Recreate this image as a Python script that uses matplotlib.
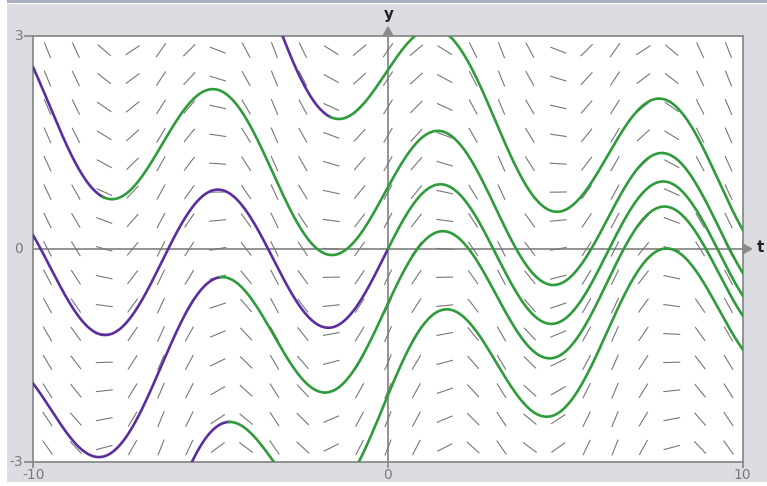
import numpy as np
import matplotlib
matplotlib.use("Agg")
import matplotlib.pyplot as plt
from matplotlib.collections import LineCollection
from matplotlib.patches import Rectangle

# ODE: dy/dt = cos(t) - k*y
k = 0.1
t_range = [-10, 10]
y_range = [-3, 3]
# initial points of the solution curves (purple = backward, green = forward)
t0_list = [-8.03, -1.63, 0.0, -4.73, -4.49]
y0_list = [0.73, 1.86, 0.0, -0.40, -2.44]
# slope-field grid
n_cols = 25
n_rows = 15
x_ticks = [-10, 0, 10]
y_ticks = [-3, 0, 3]

PURPLE = "#5b2d9f"
GREEN = "#2f9b3b"
GRAY = "#8a8a8a"
BG = "#dcdde3"

def f(t, y):
    return np.cos(t) - k * y

def yp(t):
    return (k * np.cos(t) + np.sin(t)) / (1 + k * k)

def sol(t, t0, y0):
    return yp(t) + (y0 - yp(t0)) * np.exp(-k * (t - t0))

W, H = 767, 486
fig = plt.figure(figsize=(W / 100, H / 100), dpi=100)
fig.patch.set_facecolor("white")
fig.patches.append(Rectangle((7 / W, 4 / H), 1 - 7 / W, 1 - 8 / H, transform=fig.transFigure,
                             facecolor=BG, edgecolor="none", zorder=-10))
fig.patches.append(Rectangle((7 / W, 1 - 3 / H), 1 - 7 / W, 3 / H, transform=fig.transFigure,
                             facecolor="#aab0c4", edgecolor="none", zorder=-9))

left, right, top, bottom = 33.3, 742.7, 36.0, 461.7
ax = fig.add_axes([left / W, 1 - bottom / H, (right - left) / W, (bottom - top) / H])
ax.set_facecolor("white")
ax.set_xlim(t_range)
ax.set_ylim(y_range)
for s in ax.spines.values():
    s.set_color(GRAY)
    s.set_linewidth(1.3)
ax.set_xticks([])
ax.set_yticks([])

# slope field: fixed screen-length dashes
px_x = (right - left) / (t_range[1] - t_range[0])
px_y = (bottom - top) / (y_range[1] - y_range[0])
half = 8.5
tc = t_range[0] + (np.arange(n_cols) + 0.5) * (t_range[1] - t_range[0]) / n_cols
yc = y_range[0] + (np.arange(n_rows) + 0.5) * (y_range[1] - y_range[0]) / n_rows
segs = []
for t in tc:
    for y in yc:
        s = f(t, y)
        dx, dy = px_x, px_y * s
        n = np.hypot(dx, dy)
        ux, uy = dx / n * half / px_x, dy / n * half / px_y
        segs.append([(t - ux, y - uy), (t + ux, y + uy)])
ax.add_collection(LineCollection(segs, colors="#777777", linewidths=0.8, zorder=2))

# axes through origin
ax.axhline(0, color=GRAY, lw=1.3, zorder=1)
ax.axvline(0, color=GRAY, lw=1.3, zorder=1)

# solution curves
for t0, y0 in zip(t0_list, y0_list):
    tb = np.linspace(t_range[0], t0, 600)
    ax.plot(tb, sol(tb, t0, y0), color=PURPLE, lw=1.9, zorder=3)
    tf = np.linspace(t0, t_range[1], 900)
    ax.plot(tf, sol(tf, t0, y0), color=GREEN, lw=1.9, zorder=3)

# arrows and axis letters (outside axes)
fx = lambda p: p / W
fy = lambda p: 1 - p / H
x0px = left + (0 - t_range[0]) * px_x
y0px = bottom - (0 - y_range[0]) * px_y
fig.add_artist(plt.Polygon([(fx(x0px - 5), fy(top)), (fx(x0px + 5), fy(top)), (fx(x0px), fy(top - 9))],
                           closed=True, transform=fig.transFigure, color=GRAY))
fig.add_artist(plt.Polygon([(fx(right), fy(y0px - 5)), (fx(right), fy(y0px + 5)), (fx(right + 9), fy(y0px))],
                           closed=True, transform=fig.transFigure, color=GRAY))
fig.text(fx(x0px + 1), fy(15), "y", ha="center", va="center", fontsize=11, fontweight="bold", color="#222222")
fig.text(fx(757), fy(y0px - 1), "t", ha="left", va="center", fontsize=11, fontweight="bold", color="#222222")

# tick labels
for yv in y_ticks:
    ypx = bottom - (yv - y_range[0]) * px_y
    fig.text(fx(left - 10), fy(ypx), str(yv), ha="right", va="center",
             fontsize=10, color="#7a7a7a")
    if yv != 0:
        fig.add_artist(plt.Line2D([fx(left - 8), fx(left)], [fy(ypx), fy(ypx)], color=GRAY, lw=1.3,
                                  transform=fig.transFigure))
for xv in x_ticks:
    xpx = left + (xv - t_range[0]) * px_x
    fig.text(fx(xpx), fy(bottom + 13), str(xv), ha="center", va="center", fontsize=10, color="#7a7a7a")
    fig.add_artist(plt.Line2D([fx(xpx), fx(xpx)], [fy(bottom), fy(bottom + 5)], color=GRAY, lw=1.3,
                              transform=fig.transFigure))

fig.savefig("out.png", dpi=100)
